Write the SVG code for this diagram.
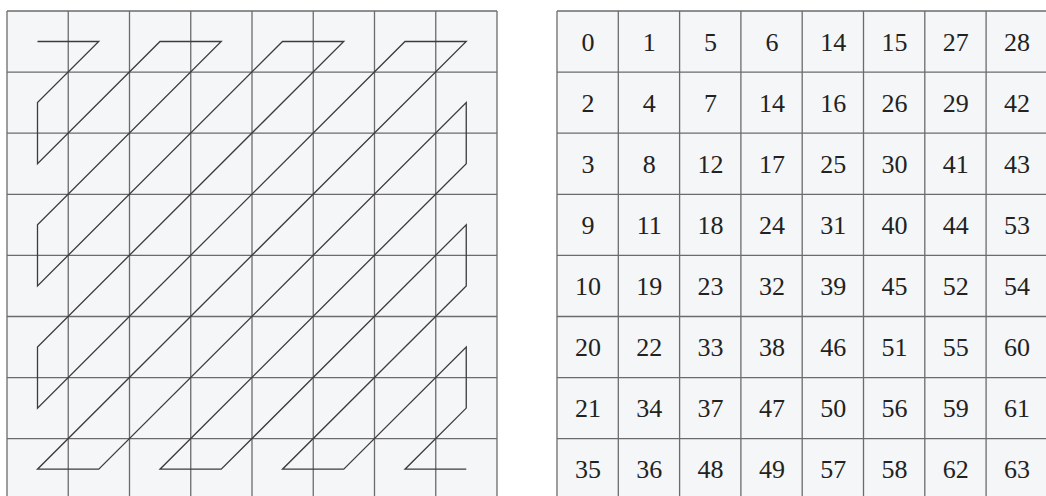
<svg xmlns="http://www.w3.org/2000/svg" width="1046" height="496" viewBox="0 0 1046 496">
<style>
.bg{fill:#ffffff}
.cellbg{fill:#f4f6f7}
.grid line{stroke:#6b6b6b;stroke-width:1.3;fill:none}
.zig{stroke:#3c3c3c;stroke-width:1.3;fill:none;stroke-linejoin:miter}
.num{font-family:"Liberation Serif","Times New Roman",serif;font-size:26px;fill:#222;text-anchor:middle}
</style>
<rect class="bg" x="0" y="0" width="1046" height="496"/>
<g id="left-grid" class="grid">
<rect class="cellbg" x="7" y="11" width="490" height="489"/>
<line x1="7" y1="11" x2="7" y2="496"/>
<line x1="68.25" y1="11" x2="68.25" y2="496"/>
<line x1="129.5" y1="11" x2="129.5" y2="496"/>
<line x1="190.75" y1="11" x2="190.75" y2="496"/>
<line x1="252" y1="11" x2="252" y2="496"/>
<line x1="313.25" y1="11" x2="313.25" y2="496"/>
<line x1="374.5" y1="11" x2="374.5" y2="496"/>
<line x1="435.75" y1="11" x2="435.75" y2="496"/>
<line x1="497" y1="11" x2="497" y2="496"/>
<line x1="7" y1="11" x2="497" y2="11"/>
<line x1="7" y1="72.1" x2="497" y2="72.1"/>
<line x1="7" y1="133.2" x2="497" y2="133.2"/>
<line x1="7" y1="194.3" x2="497" y2="194.3"/>
<line x1="7" y1="255.4" x2="497" y2="255.4"/>
<line x1="7" y1="316.5" x2="497" y2="316.5"/>
<line x1="7" y1="377.6" x2="497" y2="377.6"/>
<line x1="7" y1="438.7" x2="497" y2="438.7"/>
</g>
<g id="connectors">
<polyline class="zig" points="37.5,41.5 98.75,41.5 37.5,102.6 37.5,163.7 160,41.5 221.25,41.5 37.5,224.8 37.5,285.9 282.5,41.5 343.75,41.5 37.5,347 37.5,408.1 405,41.5 466.25,41.5 37.5,469.2 98.75,469.2 466.25,102.6 466.25,163.7 160,469.2 221.25,469.2 466.25,224.8 466.25,285.9 282.5,469.2 343.75,469.2 466.25,347 466.25,408.1 405,469.2 466.25,469.2"/>
</g>
<g id="right-grid" class="grid">
<rect class="cellbg" x="557" y="11" width="489" height="489"/>
<line x1="557" y1="11" x2="557" y2="496"/>
<line x1="618.3" y1="11" x2="618.3" y2="496"/>
<line x1="679.6" y1="11" x2="679.6" y2="496"/>
<line x1="740.9" y1="11" x2="740.9" y2="496"/>
<line x1="802.2" y1="11" x2="802.2" y2="496"/>
<line x1="863.5" y1="11" x2="863.5" y2="496"/>
<line x1="924.8" y1="11" x2="924.8" y2="496"/>
<line x1="986.1" y1="11" x2="986.1" y2="496"/>
<line x1="557" y1="11" x2="1046" y2="11"/>
<line x1="557" y1="72.1" x2="1046" y2="72.1"/>
<line x1="557" y1="133.2" x2="1046" y2="133.2"/>
<line x1="557" y1="194.3" x2="1046" y2="194.3"/>
<line x1="557" y1="255.4" x2="1046" y2="255.4"/>
<line x1="557" y1="316.5" x2="1046" y2="316.5"/>
<line x1="557" y1="377.6" x2="1046" y2="377.6"/>
<line x1="557" y1="438.7" x2="1046" y2="438.7"/>
</g>
<g id="numbers" class="num">
<text x="588" y="50.5">0</text><text x="649.3" y="50.5">1</text><text x="710.6" y="50.5">5</text><text x="771.9" y="50.5">6</text><text x="833.2" y="50.5">14</text><text x="894.5" y="50.5">15</text><text x="955.8" y="50.5">27</text><text x="1017.1" y="50.5">28</text>
<text x="588" y="111.6">2</text><text x="649.3" y="111.6">4</text><text x="710.6" y="111.6">7</text><text x="771.9" y="111.6">14</text><text x="833.2" y="111.6">16</text><text x="894.5" y="111.6">26</text><text x="955.8" y="111.6">29</text><text x="1017.1" y="111.6">42</text>
<text x="588" y="172.7">3</text><text x="649.3" y="172.7">8</text><text x="710.6" y="172.7">12</text><text x="771.9" y="172.7">17</text><text x="833.2" y="172.7">25</text><text x="894.5" y="172.7">30</text><text x="955.8" y="172.7">41</text><text x="1017.1" y="172.7">43</text>
<text x="588" y="233.8">9</text><text x="649.3" y="233.8">11</text><text x="710.6" y="233.8">18</text><text x="771.9" y="233.8">24</text><text x="833.2" y="233.8">31</text><text x="894.5" y="233.8">40</text><text x="955.8" y="233.8">44</text><text x="1017.1" y="233.8">53</text>
<text x="588" y="294.9">10</text><text x="649.3" y="294.9">19</text><text x="710.6" y="294.9">23</text><text x="771.9" y="294.9">32</text><text x="833.2" y="294.9">39</text><text x="894.5" y="294.9">45</text><text x="955.8" y="294.9">52</text><text x="1017.1" y="294.9">54</text>
<text x="588" y="356">20</text><text x="649.3" y="356">22</text><text x="710.6" y="356">33</text><text x="771.9" y="356">38</text><text x="833.2" y="356">46</text><text x="894.5" y="356">51</text><text x="955.8" y="356">55</text><text x="1017.1" y="356">60</text>
<text x="588" y="417.1">21</text><text x="649.3" y="417.1">34</text><text x="710.6" y="417.1">37</text><text x="771.9" y="417.1">47</text><text x="833.2" y="417.1">50</text><text x="894.5" y="417.1">56</text><text x="955.8" y="417.1">59</text><text x="1017.1" y="417.1">61</text>
<text x="588" y="478.2">35</text><text x="649.3" y="478.2">36</text><text x="710.6" y="478.2">48</text><text x="771.9" y="478.2">49</text><text x="833.2" y="478.2">57</text><text x="894.5" y="478.2">58</text><text x="955.8" y="478.2">62</text><text x="1017.1" y="478.2">63</text>
</g>
</svg>
